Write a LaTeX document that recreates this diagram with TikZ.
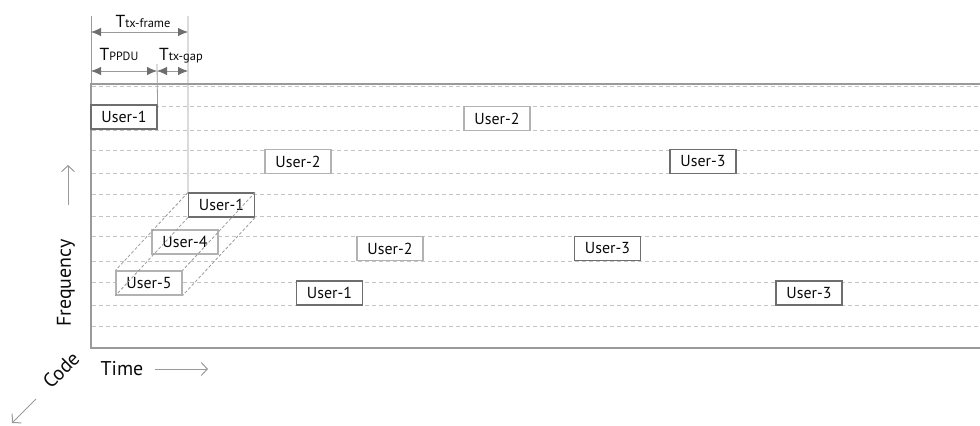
\documentclass[tikz,border=0pt]{standalone}
\usepackage{fontspec}
\setmainfont{PT Sans}
\usetikzlibrary{arrows.meta}
\definecolor{framegray}{HTML}{9A9A9A}
\definecolor{gridgray}{HTML}{C4C4C4}
\definecolor{darkbox}{HTML}{6E6E6E}
\definecolor{lightbox}{HTML}{B2B2B2}
\definecolor{txt}{HTML}{0A0A0A}
\begin{document}
\begin{tikzpicture}[x=1bp,y=-1bp,
  every node/.style={text=txt,font=\fontsize{16}{18}\selectfont},
  ubox/.style={draw,fill=white,line width=1.1bp,minimum width=66bp,minimum height=24bp,inner sep=0pt},
  udark/.style={ubox,draw=darkbox},
  ulight/.style={ubox,draw=lightbox},
  gridline/.style={gridgray,line width=0.9bp,dash pattern=on 4bp off 3bp},
  ghost/.style={framegray,line width=0.8bp,dash pattern=on 3bp off 2bp},
  guide/.style={framegray,line width=0.8bp},
  span/.style={framegray,line width=0.8bp,{Latex[length=10bp,width=8.5bp,fill=darkbox,color=darkbox]}-{Latex[length=10bp,width=8.5bp,fill=darkbox,color=darkbox]}},
  axisarrow/.style={framegray,line width=1bp,-{Straight Barb[length=6bp,width=13bp]}},
  tlabel/.style={inner sep=0pt,font=\fontsize{17.5}{19}\selectfont},
  axislabel/.style={inner sep=0pt,font=\fontsize{20}{22}\selectfont}
]
\useasboundingbox (0,0) rectangle (980,425);

% grid rows
\foreach \yy in {86,106,130,150,173,194,216,236,261,282,305,326}
  \draw[gridline] (92,\yy) -- (980,\yy);

% plot frame (open to the right)
\draw[framegray,line width=2bp] (980,84) -- (91,84) -- (91,348) -- (980,348);

% timing guides
\coordinate (g0) at (91,16);
\coordinate (g0b) at (91,84);
\coordinate (g1) at (157,64);
\coordinate (g2) at (188,16);

% user slots
\node[udark]  (a1) at (124,117)   {User-1};
\node[ulight] (a2) at (497,118.5) {User-2};
\node[ulight] (b2) at (298,161.5) {User-2};
\node[udark]  (b3) at (703,161.5) {User-3};
\node[udark]  (c1) at (221.5,205) {User-1};
\node[ulight] (c4) at (185,242)   {User-4};
\node[ulight] (c5) at (149,283)   {User-5};
\node[ulight] (d2) at (390,248.5) {User-2};
\node[udark]  (d3) at (607.5,248.5) {User-3};
\node[udark]  (e1) at (329.5,293) {User-1};
\node[udark]  (e3) at (809,293)   {User-3};

% code-domain stack outline
\draw[ghost] (c1.north west) -- (c5.north west);
\draw[ghost] (c1.north east) -- (c5.north east);
\draw[ghost] (c1.south west) -- (c5.south west);
\draw[ghost] (c1.south east) -- (c5.south east);

% vertical guides
\draw[guide] (g0) -- (g0b);
\draw[guide] (g1) -- (a1.north east);
\draw[guide] (g2) -- (c1.north west);

% duration spans
\coordinate (s0) at (91,32);
\coordinate (s1) at (188,32);
\coordinate (p0) at (91,71);
\coordinate (p1) at (157,71);
\coordinate (p2) at (188,71);
\draw[span] (s0) -- (s1);
\draw[span] (p0) -- (p1);
\draw[span] (p1) -- (p2);

\node[tlabel,anchor=base] (ltf) at (143,27) {T\fontsize{12.5}{14}\selectfont\raisebox{-0.8bp}{tx-frame}};
\node[tlabel,anchor=base] (lpp) at (119,60) {T\fontsize{12}{14}\selectfont\raisebox{-0.8bp}{PPDU}};
\node[tlabel,anchor=base] (lgp) at (181,60) {T\fontsize{12.5}{14}\selectfont\raisebox{-0.8bp}{tx-gap}};

% axes
\node[axislabel,rotate=90] (fq) at (66,283) {Frequency};
\coordinate (fa0) at (68,205);
\coordinate (fa1) at (68,165);
\draw[axisarrow] (fa0) -- (fa1);

\node[axislabel] (tm) at (122,369) {Time};
\coordinate (ta0) at (155,369);
\coordinate (ta1) at (208,369);
\draw[axisarrow] (ta0) -- (ta1);

\node[axislabel,rotate=45] (cd) at (61,370) {Code};
\coordinate (ca0) at (36,399);
\coordinate (ca1) at (12,423);
\draw[axisarrow] (ca0) -- (ca1);
\end{tikzpicture}
\end{document}
